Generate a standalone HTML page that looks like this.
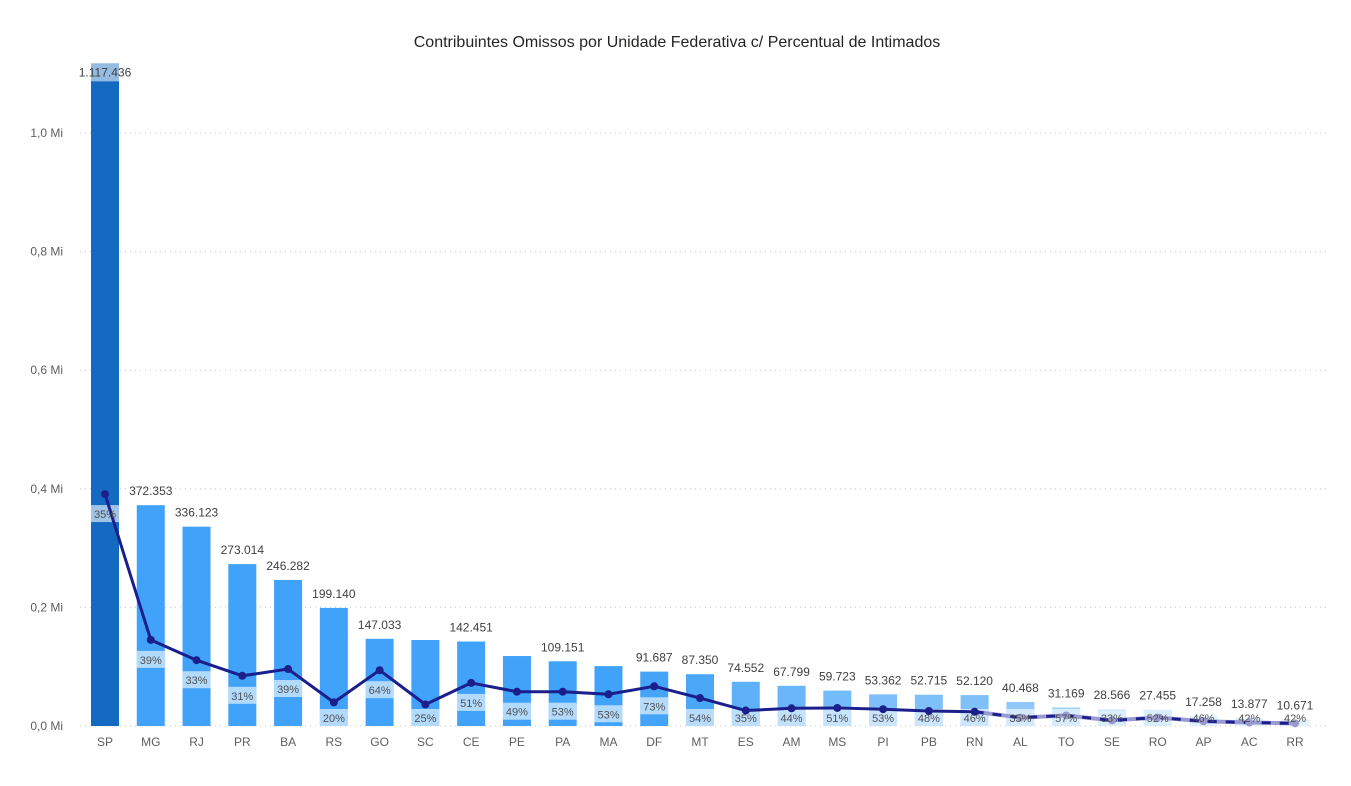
<!DOCTYPE html>
<html><head><meta charset="utf-8">
<style>
html,body{margin:0;padding:0;background:#fff;}
body{width:1351px;height:781px;overflow:hidden;font-family:"Liberation Sans","DejaVu Sans",sans-serif;}
</style></head>
<body>
<svg id="chart" width="1351" height="781" viewBox="0 0 1351 781" xmlns="http://www.w3.org/2000/svg">
<text x="677" y="47" text-anchor="middle" font-size="16" fill="#252423">Contribuintes Omissos por Unidade Federativa c/ Percentual de Intimados</text>
<g id="grid"></g><g id="bars"></g><g id="line"></g><g id="labels"></g>
</svg>
<script>
const categories=["SP","MG","RJ","PR","BA","RS","GO","SC","CE","PE","PA","MA","DF","MT","ES","AM","MS","PI","PB","RN","AL","TO","SE","RO","AP","AC","RR"];
const totals=[1117436,372353,336123,273014,246282,199140,147033,145000,142451,118000,109151,101000,91687,87350,74552,67799,59723,53362,52715,52120,40468,31169,28566,27455,17258,13877,10671];
const showTotal=[1,1,1,1,1,1,1,0,1,0,1,0,1,1,1,1,1,1,1,1,1,1,1,1,1,1,1];
const pcts=[35,39,33,31,39,20,64,25,51,49,53,53,73,54,35,44,51,53,48,46,35,57,33,52,46,42,42];
const yTicks=[0,200000,400000,600000,800000,1000000];
const yTickLabels=["0,0 Mi","0,2 Mi","0,4 Mi","0,6 Mi","0,8 Mi","1,0 Mi"];
const solidCount=20;

const NS="http://www.w3.org/2000/svg";
const y0=726,yPerUnit=593/1000000;
const Y=v=>y0-v*yPerUnit;
const X=i=>105+i*45.77;
const BW=28;
function mk(tag,attrs,parent,txt){const e=document.createElementNS(NS,tag);for(const k in attrs)e.setAttribute(k,attrs[k]);if(txt!==undefined)e.textContent=txt;document.getElementById(parent).appendChild(e);return e;}
function fmt(n){return n.toString().replace(/\B(?=(\d{3})+(?!\d))/g,".");}
function barColor(v){
  if(v>500000)return "#1469c0";
  const t=Math.max(0,Math.min(1,(v-10000)/(95000-10000)));
  const a=[190,222,250],b=[64,162,248];
  return "rgb("+a.map((c,i)=>Math.round(c+(b[i]-c)*t)).join(",")+")";
}
yTicks.forEach((v,i)=>{
  const l=mk("line",{x1:80,x2:1328,y1:Y(v),y2:Y(v),stroke:"#c8c6c4","stroke-width":1,"stroke-dasharray":"1,4"},"grid");
  
  
  const t=mk("text",{x:63,y:Y(v)+4,"text-anchor":"end","font-size":12,fill:"#605e5c"},"grid",yTickLabels[i]);
  
  
});
categories.forEach((c,i)=>{
  const v=totals[i];
  const r=mk("rect",{x:X(i)-BW/2,y:Y(v),width:BW,height:y0-Y(v),fill:barColor(v)},"bars");
  
  
  const t=mk("text",{x:X(i),y:y0+20,"text-anchor":"middle","font-size":12,fill:"#605e5c"},"labels",c);
  
  
  if(showTotal[i]){
    let ty=Y(v)-10;
    if(i===0){ty=Y(v)+13;
      const bx=mk("rect",{x:X(i)-BW/2,y:Y(v),width:BW,height:18,fill:"#fff","fill-opacity":0.55},"labels");
      
      }
    const tl=mk("text",{x:X(i),y:ty,"text-anchor":"middle","font-size":12,fill:"#404040"},"labels",fmt(v));
    
    
  }
});
const lineVals=totals.map((t,i)=>t*pcts[i]/100);
const pts=lineVals.map((v,i)=>[X(i),Y(v)]);
// percent label boxes
pts.forEach((p,i)=>{
  let cy=Math.min(p[1]+20,y0-8);
  const b=mk("rect",{x:X(i)-BW/2,y:cy-9,width:BW,height:17,fill:"#fff","fill-opacity":0.6},"line");
  
  
  const t=mk("text",{x:X(i),y:cy+4,"text-anchor":"middle","font-size":11,fill:"#505050"},"labels",pcts[i]+"%");
  
  
});
const solid=pts.slice(0,solidCount).map(p=>p.join(",")).join(" ");
const rest=pts.slice(solidCount-1).map(p=>p.join(",")).join(" ");
const l1=mk("polyline",{points:solid,fill:"none",stroke:"#1a1f8c","stroke-width":3,"stroke-linejoin":"round"},"line");


const l2=mk("polyline",{points:rest,fill:"none",stroke:"#9a9ad2","stroke-width":4,"stroke-linejoin":"round"},"line");


const l3=mk("polyline",{points:rest,fill:"none",stroke:"#1a1f8c","stroke-width":3,"stroke-dasharray":"9,9"},"line");


pts.forEach((p,i)=>{
  const c=mk("circle",{cx:p[0],cy:p[1],r:4,fill:i<solidCount?"#1a1f8c":"#9a9ad2"},"line");
  
  
});
</script>
</body></html>
